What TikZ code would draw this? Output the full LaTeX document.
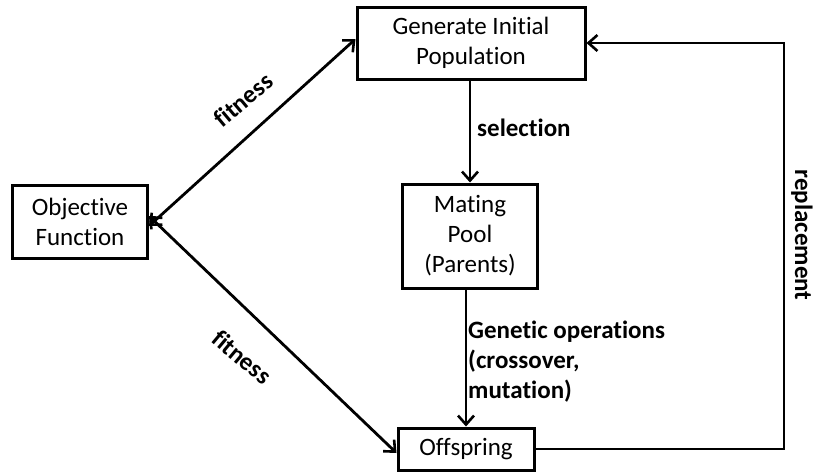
\documentclass[tikz,border=0pt]{standalone}
\usepackage{fontspec}
\setmainfont[RawFeature={-liga;-clig;-dlig}]{Carlito}
\usetikzlibrary{arrows.meta}
\begin{document}
\begin{tikzpicture}[x=1pt,y=-1pt,
  box/.style={draw, line width=3pt, inner sep=0pt, font=\fontsize{25}{30}\selectfont, align=center},
  tip/.tip={Straight Barb[length=9pt,width=16pt,line width=2.6pt]},
  conn/.style={line width=2.8pt, -tip},
  biconn/.style={line width=2.8pt, tip-tip},
  lbl/.style={font=\fontsize{25}{30}\selectfont\bfseries, inner sep=0pt}]
\useasboundingbox (0,0) rectangle (814,472);

% process boxes
\node[box, minimum width=228pt, minimum height=72pt] (gip) at (471,43) {Generate Initial\\Population};
\node[box, minimum width=135pt, minimum height=73pt] (obj) at (80,222) {Objective\\Function};
\node[box, minimum width=135pt, minimum height=104pt] (pool) at (470,236) {Mating\\Pool\\(Parents)};
\node[box, minimum width=136pt, minimum height=42pt] (off) at (466,449) {Offspring};

% fitness evaluation links
\draw[biconn] ([yshift=-4pt]obj.east) -- ([yshift=4pt]gip.west);
\draw[biconn] ([yshift=6pt]obj.east) -- ([yshift=-4pt]off.west);

% main loop
\draw[conn] (gip.south -| pool.north) -- (pool.north);
\draw[conn] (pool.south -| off.north) -- (off.north);
\coordinate (rb) at (784,449);
\coordinate (rt) at (784,43);
\draw[conn] (off.east) -- (rb) -- (rt) -- (gip.east);

% labels
\node[lbl, rotate=40] (f1) at (243,100) {fitness};
\node[lbl, rotate=-40] (f2) at (242,357) {fitness};
\node[lbl, anchor=west] (sel) at (477,128) {selection};
\node[lbl, anchor=west, align=left] (gen) at (468,362) {Genetic operations\\(crossover,\\mutation)};
\node[lbl, rotate=-90] (rep) at (802,235) {replacement};
\end{tikzpicture}
\end{document}
